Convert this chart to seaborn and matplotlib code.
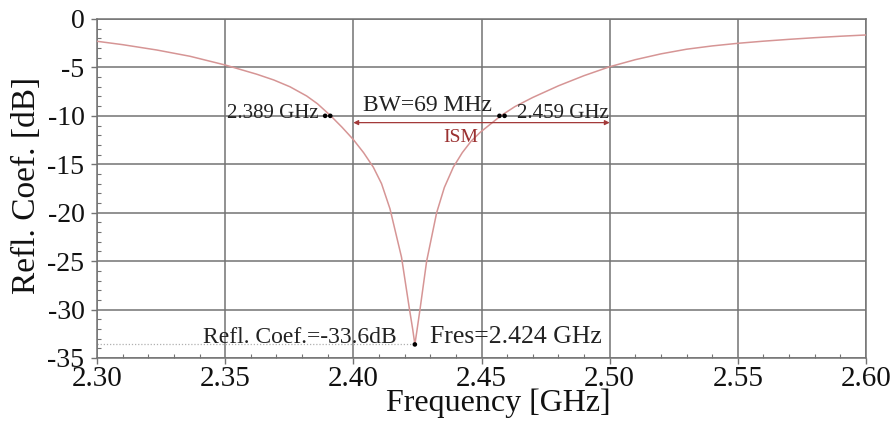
import numpy as np
import pandas as pd
import matplotlib
matplotlib.use("Agg")
import matplotlib.pyplot as plt
import seaborn as sns
from matplotlib.ticker import MultipleLocator

# ---- data ----
freq_ghz = [2.300, 2.310, 2.3233, 2.3363, 2.350, 2.3623, 2.369, 2.3753, 2.3818,
            2.386, 2.391, 2.3955, 2.400, 2.404, 2.4078, 2.411, 2.4143, 2.4188,
            2.4218, 2.4232, 2.424, 2.4248, 2.426, 2.4286, 2.4325, 2.4355, 2.439,
            2.4425, 2.446, 2.4495, 2.4535, 2.4575, 2.463, 2.470, 2.480, 2.490,
            2.500, 2.510, 2.520, 2.530, 2.540, 2.550, 2.560, 2.570, 2.580,
            2.590, 2.600]
refl_db = [-2.3, -2.65, -3.2, -3.85, -4.75, -5.7, -6.3, -7.0, -7.95,
           -8.75, -9.95, -11.15, -12.45, -13.8, -15.3, -17.0, -19.6, -24.6,
           -29.8, -32.1, -33.6, -32.2, -30.0, -25.0, -20.0, -17.4, -15.3,
           -13.8, -12.6, -11.7, -10.85, -10.0, -9.05, -8.1, -6.9, -5.85,
           -4.93, -4.2, -3.6, -3.12, -2.78, -2.51, -2.29, -2.1, -1.93,
           -1.78, -1.65]

marker_freq = [2.389, 2.391, 2.457, 2.459, 2.424]
marker_db = [-10.0, -10.0, -10.0, -10.0, -33.6]

ism_band = [2.40, 2.50]
ism_level = -10.7

x_ticks = [2.30, 2.35, 2.40, 2.45, 2.50, 2.55, 2.60]
y_ticks = [0, -5, -10, -15, -20, -25, -30, -35]

df = pd.DataFrame({"freq": freq_ghz, "db": refl_db})
mk = pd.DataFrame({"freq": marker_freq, "db": marker_db})

sns.set_theme(style="white")
plt.rcParams["font.family"] = ["Liberation Serif", "DejaVu Serif"]

fig = plt.figure(figsize=(8.93, 4.23), dpi=100)
ax = fig.add_axes([0.1086, 0.1537, 0.8612, 0.8014])

grid_c = "#737373"
sns.lineplot(data=df, x="freq", y="db", ax=ax, color="#d69595", lw=1.1, zorder=3)
sns.scatterplot(data=mk, x="freq", y="db", ax=ax, color="black", s=11,
                edgecolor="none", zorder=5)

# dotted reference line at the minimum
ax.plot([x_ticks[0], marker_freq[-1]], [marker_db[-1], marker_db[-1]],
        ls=(0, (1, 1.5)), color="#b0b0b0", lw=0.9, zorder=2)

# ISM band arrow
ax.annotate("", xy=(ism_band[0], ism_level), xytext=(ism_band[1], ism_level),
            arrowprops=dict(arrowstyle="<|-|>", color="#a33a3a", lw=0.9,
                            mutation_scale=7, shrinkA=0, shrinkB=0), zorder=4)
ax.text(2.442, -12.2, "ISM", color="#9a3030", fontsize=14, ha="center", va="center")

txt_c = "#222222"
ax.text(2.3865, -9.8, "2.389 GHz", fontsize=15, ha="right", va="center", color=txt_c)
ax.text(2.4291, -8.9, "BW=69 MHz", fontsize=17, ha="center", va="center", color=txt_c)
ax.text(2.4638, -9.8, "2.459 GHz", fontsize=15, ha="left", va="center", color=txt_c)
ax.text(2.417, -33.5, "Refl. Coef.=-33.6dB", fontsize=17, ha="right", va="baseline",
        color=txt_c)
ax.text(2.4301, -33.5, "Fres=2.424 GHz", fontsize=18.5, ha="left", va="baseline",
        color=txt_c)

ax.set_xlim(2.30, 2.60)
ax.set_ylim(-35, 0)
ax.set_xticks(x_ticks)
ax.set_yticks(y_ticks)
ax.set_xticklabels([f"{v:.2f}" for v in x_ticks], fontsize=21)
ax.set_yticklabels([f"{v:d}" for v in y_ticks], fontsize=20)
ax.xaxis.set_minor_locator(MultipleLocator(0.01))
ax.yaxis.set_minor_locator(MultipleLocator(1))
ax.tick_params(axis="both", which="major", direction="out", length=4, width=1,
               color=grid_c, labelcolor="#111111")
ax.tick_params(axis="x", which="major", pad=1.5)
ax.tick_params(axis="y", which="major", pad=5)
ax.tick_params(axis="both", which="minor", direction="in", length=3, width=0.8,
               color=grid_c)
ax.tick_params(axis="both", which="both", bottom=True, left=True, top=False, right=False)
ax.grid(True, which="major", color=grid_c, lw=1.1)
for s in ax.spines.values():
    s.set_color(grid_c)
    s.set_linewidth(1.1)

ax.set_xlabel("Frequency [GHz]", fontsize=23, color="#111111")
ax.set_ylabel("Refl. Coef. [dB]", fontsize=24, color="#111111")
ax.xaxis.set_label_coords(0.522, -0.091)
ax.yaxis.set_label_coords(-0.072, 0.51)

fig.savefig("out.png", dpi=100)
